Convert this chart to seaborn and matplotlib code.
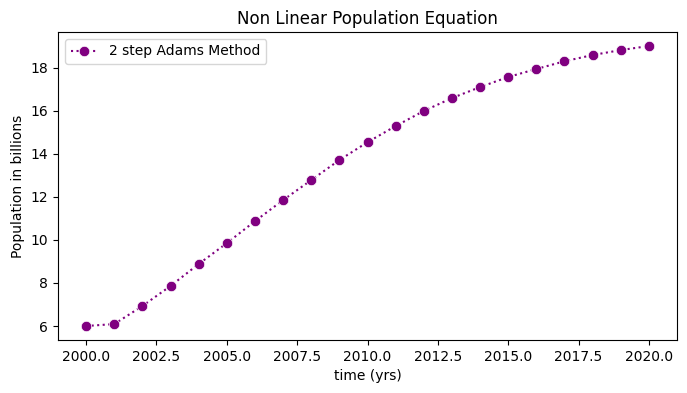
import matplotlib
matplotlib.use("Agg")
import matplotlib.pyplot as plt
import seaborn as sns
import numpy as np
import pandas as pd

years = [2000.0, 2001.0, 2002.0, 2003.0, 2004.0, 2005.0, 2006.0, 2007.0, 2008.0, 2009.0, 2010.0,
         2011.0, 2012.0, 2013.0, 2014.0, 2015.0, 2016.0, 2017.0, 2018.0, 2019.0, 2020.0]
population = [6.00, 6.09, 6.93, 7.86, 8.88, 9.85, 10.87, 11.85, 12.78, 13.71, 14.54,
              15.29, 15.99, 16.59, 17.10, 17.57, 17.94, 18.30, 18.59, 18.82, 19.01]
series_label = "2 step Adams Method"

df = pd.DataFrame({"t": years, "p": population})

fig = plt.figure(figsize=(6.87, 3.93), dpi=100)
ax = fig.add_axes([58/687, 1 - 340/393, (677-58)/687, (340-32)/393])
sns.lineplot(data=df, x="t", y="p", ax=ax, color="purple", linestyle=":",
             marker="o", markersize=7.5, markeredgewidth=0.5, label=series_label)
ax.set_title("Non Linear Population Equation")
ax.set_xlabel("time (yrs)")
ax.set_ylabel("Population in billions")
ax.legend(loc="upper left")
fig.savefig("out.png", dpi=100)
